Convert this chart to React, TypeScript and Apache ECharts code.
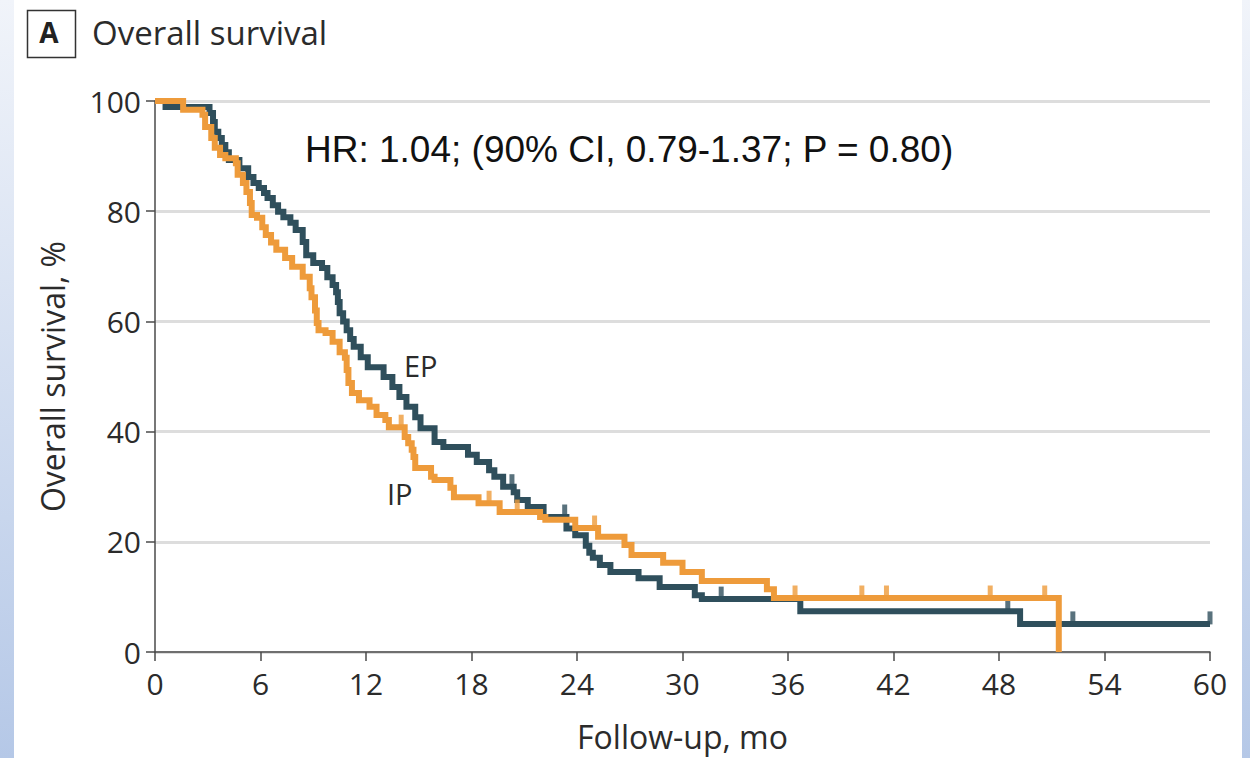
import React, { useEffect, useRef } from "react";
import * as echarts from "echarts";

// Kaplan-Meier step points: [month, survival %] — survival drops to the value at that month
const epSteps: [number, number][] = [
  [0, 100], [0.6, 98.9], [3.1, 97.8], [3.3, 96.2], [3.4, 94.4], [3.6, 93.3], [3.8, 92.0],
  [4.0, 90.7], [4.2, 89.3], [4.8, 87.8], [5.3, 86.2], [5.6, 85.1], [5.9, 84.2], [6.2, 83.3],
  [6.4, 82.4], [6.7, 81.1], [7.0, 79.9], [7.3, 78.9], [7.7, 77.9], [8.0, 76.6], [8.4, 74.4],
  [8.6, 72.0], [9.0, 70.6], [9.5, 69.7], [9.8, 68.0], [10.1, 66.6], [10.3, 65.3], [10.4, 63.5],
  [10.5, 61.5], [10.7, 60.0], [10.9, 58.4], [11.1, 56.8], [11.3, 55.4], [11.7, 53.5],
  [12.1, 51.7], [13.0, 49.9], [13.5, 48.1], [13.9, 46.3], [14.3, 44.5], [14.8, 42.6],
  [15.1, 40.6], [15.9, 38.1], [16.4, 37.2], [17.8, 35.8], [18.3, 34.5], [19.0, 33.0],
  [19.3, 31.8], [19.8, 30.0], [20.4, 29.0], [20.6, 27.6], [21.2, 26.3], [22.1, 24.5],
  [23.4, 22.4], [23.9, 21.2], [24.5, 19.3], [24.7, 18.0], [24.9, 17.1], [25.3, 15.8],
  [25.9, 14.5], [27.5, 13.4], [28.7, 11.8], [30.7, 10.3], [31.1, 9.6], [36.7, 7.4],
  [49.2, 5.1], [60, 5.1],
];

const ipSteps: [number, number][] = [
  [0, 100], [1.6, 98.4], [2.7, 97.5], [2.85, 95.3], [3.2, 93.3], [3.4, 91.5], [3.7, 90.2],
  [4.0, 89.6], [4.6, 88.7], [4.7, 86.6], [5.0, 85.1], [5.2, 83.5], [5.4, 81.5], [5.5, 79.3],
  [5.8, 78.8], [6.1, 77.1], [6.3, 75.7], [6.6, 74.3], [6.9, 73.0], [7.4, 71.5], [7.8, 69.9],
  [8.4, 68.1], [8.8, 66.0], [8.9, 64.4], [9.1, 62.0], [9.2, 59.7], [9.3, 58.4], [9.7, 57.9],
  [10.1, 56.3], [10.5, 54.4], [10.8, 53.4], [10.9, 51.2], [11.0, 48.8], [11.2, 47.0],
  [11.6, 45.7], [12.2, 44.5], [12.6, 43.0], [13.1, 42.1], [13.3, 40.8], [14.2, 39.0],
  [14.4, 37.9], [14.6, 36.7], [14.7, 35.4], [14.8, 33.4], [15.7, 31.8], [15.9, 31.2],
  [16.8, 29.8], [17.0, 28.1], [18.4, 27.0], [19.6, 25.4], [21.9, 24.5], [22.2, 24.0],
  [23.9, 22.5], [25.2, 20.9], [26.7, 19.4], [27.1, 17.6], [28.9, 16.2], [30.0, 14.5],
  [31.1, 12.9], [34.8, 11.4], [35.2, 9.8], [51.4, 0],
];

// Censoring times (months)
const epCensorTimes = [20.3, 23.3, 32.2, 48.5, 52.2, 60];
const ipCensorTimes = [14.0, 19.0, 20.6, 25.0, 36.4, 40.2, 41.6, 47.5, 50.6];

const xTicks = { min: 0, max: 60, interval: 6 };
const yTicks = { min: 0, max: 100, interval: 20 };

const EP_COLOR = "#2f4f5c";
const IP_COLOR = "#ee9b3b";
const SANS = "'Open Sans', 'Noto Sans', sans-serif";

function survivalAt(steps: [number, number][], t: number): number {
  let s = steps[0][1];
  for (const [time, value] of steps) {
    if (time <= t) s = value;
    else break;
  }
  return s;
}

function censorPoints(steps: [number, number][], times: number[]) {
  return times.map((t) => [t, survivalAt(steps, t)]);
}

export default function App() {
  const ref = useRef<HTMLDivElement>(null);

  useEffect(() => {
    if (!ref.current) return;
    const chart = echarts.init(ref.current, undefined, { renderer: "svg" });

    const stripFill = {
      type: "linear",
      x: 0, y: 0, x2: 0, y2: 1,
      colorStops: [
        { offset: 0, color: "#f1f4fa" },
        { offset: 1, color: "#b5c8e7" },
      ],
    };

    const censorSymbol = {
      type: "scatter",
      symbol: "rect",
      symbolSize: [5, 13],
      symbolOffset: [0, -6],
      clip: false,
      silent: true,
    };

    chart.setOption({
      animation: false,
      backgroundColor: "#ffffff",
      grid: { left: 155, right: 40, top: 101, bottom: 106, containLabel: false },
      xAxis: {
        type: "value",
        ...xTicks,
        name: "Follow-up, mo",
        nameLocation: "middle",
        nameGap: 68,
        nameTextStyle: { fontFamily: SANS, fontSize: 32, color: "#2b2b2b" },
        axisLine: { show: true, lineStyle: { color: "#4a4a4a", width: 1.5 } },
        axisTick: { show: true, length: 9, lineStyle: { color: "#4a4a4a", width: 1.5 } },
        axisLabel: { fontFamily: SANS, fontSize: 30, color: "#2b2b2b", margin: 16 },
        splitLine: { show: false },
      },
      yAxis: {
        type: "value",
        ...yTicks,
        name: "Overall survival, %",
        nameLocation: "middle",
        nameRotate: 90,
        nameGap: 87,
        nameTextStyle: { fontFamily: SANS, fontSize: 32, color: "#2b2b2b" },
        axisLine: { show: true, lineStyle: { color: "#4a4a4a", width: 1.5 } },
        axisTick: { show: true, length: 9, lineStyle: { color: "#4a4a4a", width: 1.5 } },
        axisLabel: { fontFamily: SANS, fontSize: 30, color: "#2b2b2b", margin: 14 },
        splitLine: { show: true, lineStyle: { color: "#dddddd", width: 3 } },
      },
      series: [
        {
          name: "EP",
          type: "line",
          step: "end",
          data: epSteps,
          showSymbol: false,
          symbol: "none",
          clip: false,
          lineStyle: { color: EP_COLOR, width: 6, join: "miter", cap: "butt" },
          z: 3,
        },
        {
          ...censorSymbol,
          name: "EP censored",
          data: censorPoints(epSteps, epCensorTimes),
          itemStyle: { color: EP_COLOR },
          z: 3,
        },
        {
          name: "IP",
          type: "line",
          step: "end",
          data: ipSteps,
          showSymbol: false,
          symbol: "none",
          clip: false,
          lineStyle: { color: IP_COLOR, width: 6, join: "miter", cap: "butt" },
          z: 4,
        },
        {
          ...censorSymbol,
          name: "IP censored",
          data: censorPoints(ipSteps, ipCensorTimes),
          itemStyle: { color: IP_COLOR },
          z: 4,
        },
      ],
      graphic: [
        { type: "rect", left: 0, top: 0, shape: { width: 14, height: 758 }, style: { fill: stripFill }, silent: true },
        { type: "rect", left: 1242, top: 0, shape: { width: 8, height: 758 }, style: { fill: stripFill }, silent: true },
        {
          type: "rect",
          left: 25, top: 8,
          shape: { width: 48, height: 47 },
          style: { fill: "none", stroke: "#333333", lineWidth: 1.5 },
          silent: true,
        },
        {
          type: "text",
          x: 49, y: 32,
          style: {
            text: "A", fontFamily: SANS, fontSize: 28, fontWeight: "bold",
            fill: "#222222", align: "center", verticalAlign: "middle",
          },
          silent: true,
        },
        {
          type: "text",
          x: 92, y: 32,
          style: {
            text: "Overall survival", fontFamily: SANS, fontSize: 33,
            fill: "#2b2b2b", align: "left", verticalAlign: "middle",
          },
          silent: true,
        },
        {
          type: "text",
          x: 305, y: 149,
          style: {
            text: "HR: 1.04; (90% CI, 0.79-1.37; P = 0.80)",
            fontFamily: "'Liberation Sans', Arial, sans-serif", fontSize: 37,
            fill: "#111111", align: "left", verticalAlign: "middle",
          },
          silent: true,
        },
        {
          type: "text",
          x: 404, y: 365,
          style: {
            text: "EP", fontFamily: SANS, fontSize: 29,
            fill: "#2b2b2b", align: "left", verticalAlign: "middle",
          },
          silent: true,
        },
        {
          type: "text",
          x: 387, y: 493,
          style: {
            text: "IP", fontFamily: SANS, fontSize: 29,
            fill: "#2b2b2b", align: "left", verticalAlign: "middle",
          },
          silent: true,
        },
      ],
    });

    return () => chart.dispose();
  }, []);

  return (
    <div
      ref={ref}
      style={{ position: "fixed", left: 0, top: 0, width: 1250, height: 758 }}
    />
  );
}
